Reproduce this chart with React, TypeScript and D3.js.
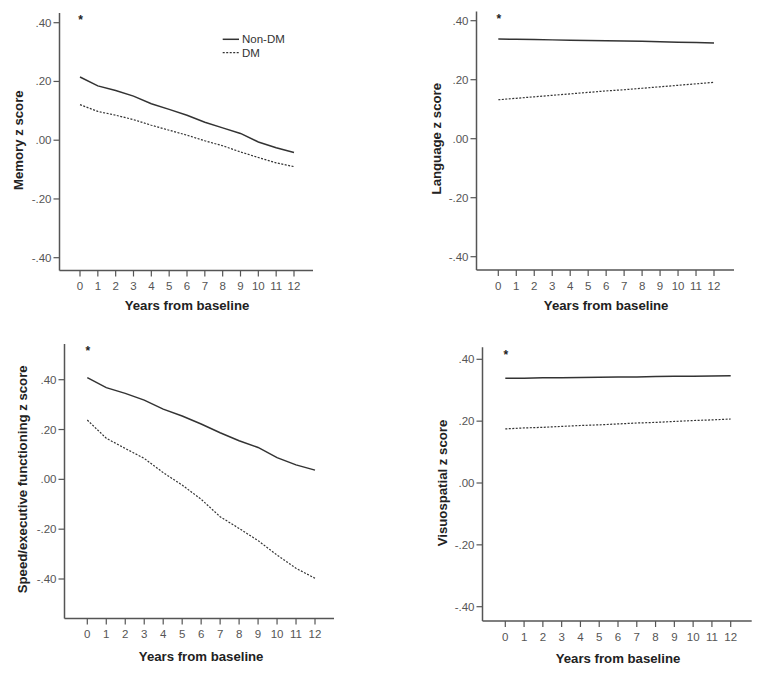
import React from "react";
import * as d3 from "d3";

const years = [0, 1, 2, 3, 4, 5, 6, 7, 8, 9, 10, 11, 12];
const yTicks = [0.4, 0.2, 0, -0.2, -0.4];
const yTickLabels = [".40", ".20", ".00", "-.20", "-.40"];
const seriesNames = ["Non-DM", "DM"];

const memoryNonDM = [0.215, 0.185, 0.169, 0.15, 0.124, 0.105, 0.085, 0.061, 0.042, 0.023, -0.006, -0.026, -0.042];
const memoryDM = [0.121, 0.098, 0.085, 0.07, 0.051, 0.034, 0.017, -0.002, -0.019, -0.04, -0.059, -0.077, -0.09];
const languageNonDM = [0.338, 0.337, 0.336, 0.335, 0.334, 0.333, 0.332, 0.331, 0.33, 0.329, 0.327, 0.326, 0.324];
const languageDM = [0.132, 0.137, 0.142, 0.147, 0.152, 0.157, 0.162, 0.166, 0.171, 0.176, 0.181, 0.186, 0.191];
const speedNonDM = [0.408, 0.368, 0.345, 0.318, 0.282, 0.254, 0.222, 0.187, 0.155, 0.128, 0.087, 0.058, 0.037];
const speedDM = [0.238, 0.165, 0.124, 0.084, 0.027, -0.023, -0.08, -0.15, -0.197, -0.246, -0.304, -0.357, -0.397];
const visuoNonDM = [0.339, 0.339, 0.34, 0.34, 0.341, 0.342, 0.343, 0.343, 0.344, 0.345, 0.345, 0.346, 0.347];
const visuoDM = [0.175, 0.178, 0.18, 0.183, 0.186, 0.188, 0.191, 0.194, 0.196, 0.199, 0.202, 0.204, 0.207];

type PanelCfg = {
  title: string;
  nonDM: number[];
  dm: number[];
  axisX: number;
  top: number;
  bottom: number;
  xEnd: number;
  y40: number;
  yM40: number;
  x0: number;
  x12: number;
  labelX: number;
  xTitleY: number;
  legend?: boolean;
};

const panels: PanelCfg[] = [
  { title: "Memory z score", nonDM: memoryNonDM, dm: memoryDM, axisX: 59.5, top: 13, bottom: 270.5, xEnd: 313, y40: 22.7, yM40: 257.7, x0: 80, x12: 294, labelX: 18.5, xTitleY: 305, legend: true },
  { title: "Language z score", nonDM: languageNonDM, dm: languageDM, axisX: 476.5, top: 11.5, bottom: 270, xEnd: 734, y40: 20.7, yM40: 256.7, x0: 498.3, x12: 714, labelX: 436, xTitleY: 305 },
  { title: "Speed/executive functioning z score", nonDM: speedNonDM, dm: speedDM, axisX: 64.5, top: 344, bottom: 618.5, xEnd: 334, y40: 379.7, yM40: 579, x0: 87.3, x12: 315, labelX: 22.7, xTitleY: 656 },
  { title: "Visuospatial z score", nonDM: visuoNonDM, dm: visuoDM, axisX: 482.5, top: 347.3, bottom: 621, xEnd: 751.7, y40: 359.3, yM40: 606.7, x0: 505.3, x12: 730.7, labelX: 442.7, xTitleY: 658 },
];

const FONT = "'Liberation Sans', Arial, sans-serif";
const AXIS = "#555";
const LINE = "#333";

function Panel({ p }: { p: PanelCfg }) {
  const x = d3.scaleLinear().domain([0, 12]).range([p.x0, p.x12]);
  const y = d3.scaleLinear().domain([-0.4, 0.4]).range([p.yM40, p.y40]);
  const line = d3
    .line<number>()
    .x((_, i) => x(years[i]))
    .y((d) => y(d));
  const yZero = y(0);
  return (
    <g fontFamily={FONT}>
      <line x1={p.axisX} x2={p.axisX} y1={p.top} y2={p.bottom} stroke={AXIS} strokeWidth={1.5} />
      <line x1={p.axisX} x2={p.xEnd} y1={p.bottom} y2={p.bottom} stroke={AXIS} strokeWidth={1.5} />
      {yTicks.map((t, i) => (
        <g key={t}>
          <line x1={p.axisX - 6} x2={p.axisX} y1={y(t)} y2={y(t)} stroke={AXIS} strokeWidth={1.2} />
          <text x={p.axisX - 8} y={y(t)} dy="0.35em" textAnchor="end" fontSize={11.5} fill="#555">
            {yTickLabels[i]}
          </text>
        </g>
      ))}
      {years.map((yr) => (
        <g key={yr}>
          <line x1={x(yr)} x2={x(yr)} y1={p.bottom} y2={p.bottom + 6} stroke={AXIS} strokeWidth={1.2} />
          <text x={x(yr)} y={p.bottom + 15.5} dy="0.35em" textAnchor="middle" fontSize={11.5} fill="#555">
            {yr}
          </text>
        </g>
      ))}
      <text
        x={(p.x0 + p.x12) / 2}
        y={p.xTitleY}
        dy="0.35em"
        textAnchor="middle"
        fontSize={13.2}
        fontWeight="bold"
        fill="#222"
      >
        Years from baseline
      </text>
      <text
        transform={`translate(${p.labelX},${yZero}) rotate(-90)`}
        dy="0.35em"
        textAnchor="middle"
        fontSize={13.2}
        fontWeight="bold"
        fill="#222"
      >
        {p.title}
      </text>
      <text x={x(0) + 0.5} y={p.top + 4} dy="0.6em" textAnchor="middle" fontSize={12} fontWeight="bold" fill="#222">
        *
      </text>
      <path d={line(p.nonDM) || ""} fill="none" stroke={LINE} strokeWidth={1.5} />
      <path d={line(p.dm) || ""} fill="none" stroke={LINE} strokeWidth={1.2} strokeDasharray="2,1.5" />
      {p.legend && (
        <g>
          <line x1={222.7} x2={239} y1={39.3} y2={39.3} stroke={LINE} strokeWidth={1.5} />
          <text x={242} y={39.3} dy="0.35em" fontSize={11.5} fill="#333">
            {seriesNames[0]}
          </text>
          <line x1={222.7} x2={239} y1={52.7} y2={52.7} stroke={LINE} strokeWidth={1.2} strokeDasharray="2,1.5" />
          <text x={242} y={52.7} dy="0.35em" fontSize={11.5} fill="#333">
            {seriesNames[1]}
          </text>
        </g>
      )}
    </g>
  );
}

export default function App() {
  return (
    <svg
      width={764}
      height={674}
      style={{ position: "absolute", left: 0, top: 0, background: "#fff" }}
    >
      <rect width={764} height={674} fill="#fff" />
      {panels.map((p) => (
        <Panel key={p.title} p={p} />
      ))}
    </svg>
  );
}
